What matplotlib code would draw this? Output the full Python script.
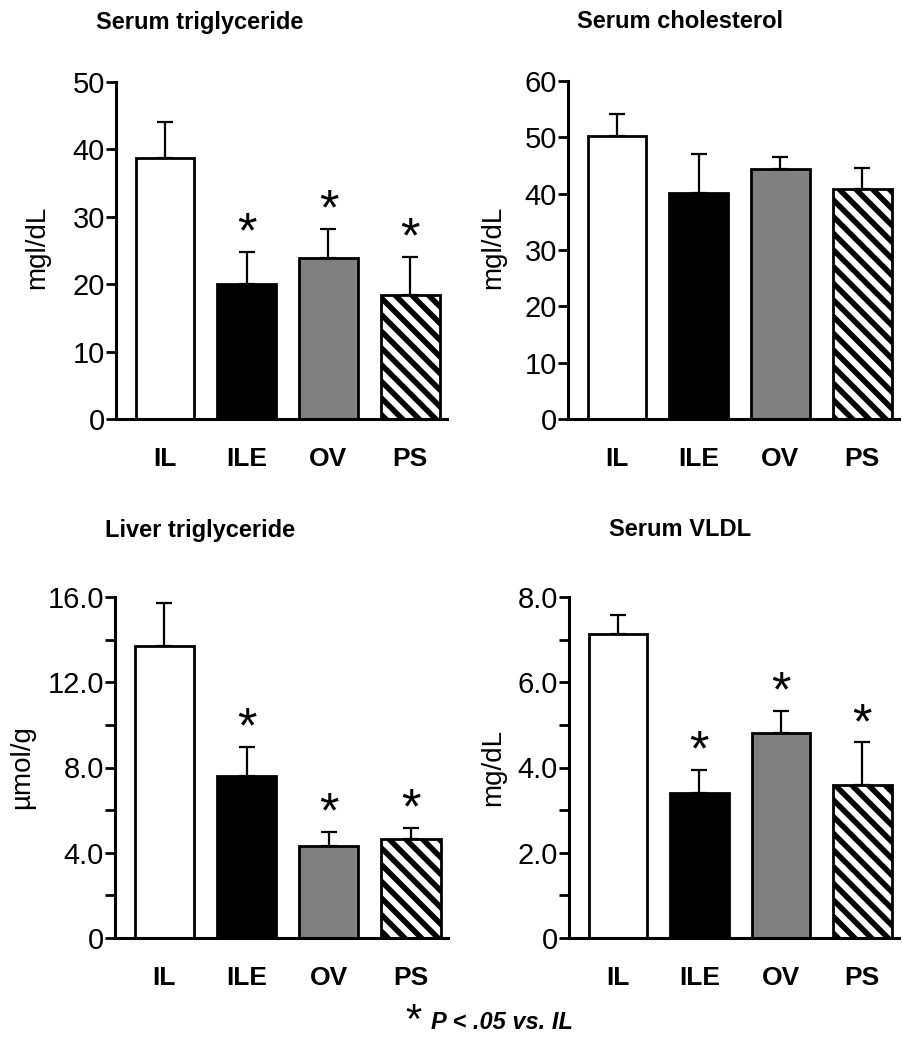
import numpy as np
import matplotlib
matplotlib.use("Agg")
import matplotlib.pyplot as plt
from matplotlib.ticker import MultipleLocator

plt.rcParams['font.family'] = ['Liberation Sans', 'DejaVu Sans']
plt.rcParams['hatch.linewidth'] = 4.0

# groups
groups = ['IL', 'ILE', 'OV', 'PS']

# values (mean and upper end of the error bar)
tg_serum = [38.7, 20.1, 23.9, 18.4]
tg_serum_err = [44.0, 24.8, 28.2, 24.1]
chol = [50.2, 40.1, 44.3, 40.9]
chol_err = [54.1, 47.1, 46.5, 44.6]
tg_liver = [13.69, 7.59, 4.33, 4.66]
tg_liver_err = [15.72, 8.97, 4.96, 5.16]
vldl = [7.14, 3.40, 4.80, 3.59]
vldl_err = [7.57, 3.95, 5.32, 4.59]

# significance marks (vs IL)
sig_tg_serum = [False, True, True, True]
sig_chol = [False, False, False, False]
sig_tg_liver = [False, True, True, True]
sig_vldl = [False, True, True, True]

ticks_tg_serum = [0, 10, 20, 30, 40, 50]
ticks_chol = [0, 10, 20, 30, 40, 50, 60]
ticks_tg_liver = [0, 4, 8, 12, 16]
labels_tg_liver = ['0', '4.0', '8.0', '12.0', '16.0']
ticks_vldl = [0, 2, 4, 6, 8]
labels_vldl = ['0', '2.0', '4.0', '6.0', '8.0']

fills = ['white', 'black', '#808080', 'white']
hatches = ['', '', '', '\\\\']

W, H = 902, 1050
fig = plt.figure(figsize=(W / 100, H / 100), dpi=100)


def make_ax(left, right, bottom, top):
    return fig.add_axes([left / W, 1 - bottom / H, (right - left) / W, (bottom - top) / H])


def panel(ax, vals, tops, sig, ticks, labels, minor=None):
    x = np.arange(len(groups))
    err = np.array(tops) - np.array(vals)
    ax.errorbar(x, vals, yerr=[np.zeros(len(vals)), err], fmt='none',
                ecolor='black', elinewidth=1.6, capsize=5.5, capthick=1.6, zorder=1)
    ax.bar(x, vals, width=0.72, color=fills, edgecolor='black', linewidth=2.0,
           hatch=hatches, zorder=2)
    for i in range(len(groups)):
        if sig[i]:
            ax.annotate('*', (x[i], tops[i]), xytext=(0, -4), textcoords='offset points',
                        ha='center', va='bottom', fontsize=36)
    ax.set_xlim(-0.6, 3.45)
    ax.set_ylim(ticks[0], ticks[-1])
    ax.set_yticks(ticks)
    ax.set_yticklabels(labels)
    if minor:
        ax.yaxis.set_minor_locator(MultipleLocator(minor))
    ax.set_xticks(x)
    ax.set_xticklabels(groups, fontweight='bold', fontsize=19)
    ax.tick_params(axis='x', length=0, pad=20)
    ax.tick_params(axis='y', which='both', direction='out', length=7, width=2,
                   labelsize=21, pad=1)
    for s in ['top', 'right']:
        ax.spines[s].set_visible(False)
    for s in ['left', 'bottom']:
        ax.spines[s].set_linewidth(2.2)


ax1 = make_ax(116, 447, 419, 82)
panel(ax1, tg_serum, tg_serum_err, sig_tg_serum, ticks_tg_serum, [str(t) for t in ticks_tg_serum])
ax2 = make_ax(568, 899, 419, 81)
panel(ax2, chol, chol_err, sig_chol, ticks_chol, [str(t) for t in ticks_chol])
ax3 = make_ax(115, 448, 938, 597)
panel(ax3, tg_liver, tg_liver_err, sig_tg_liver, ticks_tg_liver, labels_tg_liver, minor=2)
ax4 = make_ax(569, 899, 938, 597)
panel(ax4, vldl, vldl_err, sig_vldl, ticks_vldl, labels_vldl, minor=1)

# titles
fig.text(200 / W, 1 - 22 / H, 'Serum triglyceride', ha='center', va='center', fontsize=17, fontweight='bold')
fig.text(680 / W, 1 - 22 / H, 'Serum cholesterol', ha='center', va='center', fontsize=17, fontweight='bold')
fig.text(200 / W, 1 - 530 / H, 'Liver triglyceride', ha='center', va='center', fontsize=17, fontweight='bold')
fig.text(680 / W, 1 - 530 / H, 'Serum VLDL', ha='center', va='center', fontsize=17, fontweight='bold')

# y labels
fig.text(37 / W, 1 - 247 / H, 'mgl/dL', rotation=90, ha='center', va='center', fontsize=20)
fig.text(493 / W, 1 - 247 / H, 'mgl/dL', rotation=90, ha='center', va='center', fontsize=20)
fig.text(22 / W, 1 - 767 / H, 'µmol/g', rotation=90, ha='center', va='center', fontsize=20)
fig.text(493 / W, 1 - 767 / H, 'mg/dL', rotation=90, ha='center', va='center', fontsize=20)

# footnote
fig.text(413 / W, 1 - 1022 / H, '*', ha='center', va='center', fontsize=30)
fig.text(431 / W, 1 - 1029 / H, 'P < .05 vs. IL', ha='left', va='baseline', fontsize=17,
         fontweight='bold', fontstyle='italic')

fig.savefig('out.png', dpi=100)
